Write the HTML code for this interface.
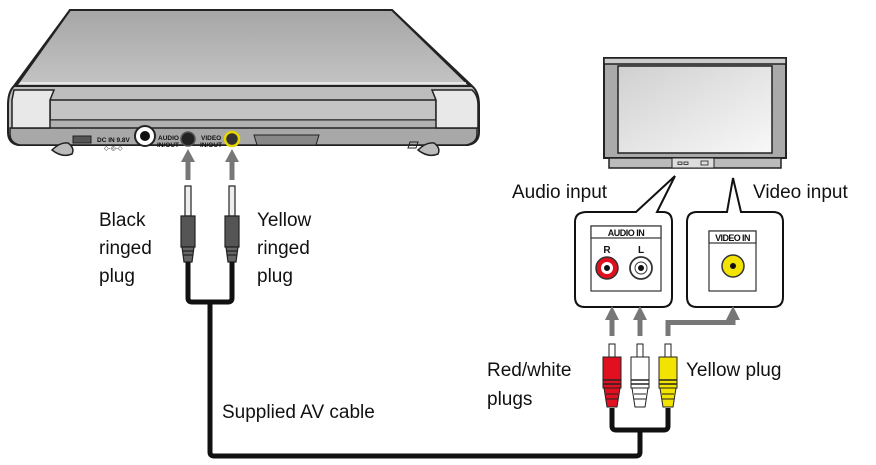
<!DOCTYPE html>
<html><head><meta charset="utf-8"><style>
html,body{margin:0;padding:0;background:#fff;width:876px;height:465px;overflow:hidden}
svg{display:block}
text{font-family:"Liberation Sans",sans-serif;fill:#111}
</style></head><body>
<svg width="876" height="465" viewBox="0 0 876 465" xmlns="http://www.w3.org/2000/svg">
<defs>
<linearGradient id="lid" x1="0" y1="0" x2="0" y2="1"><stop offset="0" stop-color="#a6a6a6"/><stop offset="1" stop-color="#c4c4c4"/></linearGradient>
<linearGradient id="scr" x1="0" y1="0" x2="1" y2="1"><stop offset="0" stop-color="#d0d0d0"/><stop offset="1" stop-color="#f8f8f8"/></linearGradient>
</defs>
<!-- DVD player -->
<path d="M70,10 L392,10 L472,86 Q479,92 479,105 L479,132 Q479,143 468,145 L18,145 Q8,143 8,132 L8,105 Q8,92 14,86 Z" fill="#bdbdbd" stroke="#222" stroke-width="2"/>
<path d="M70,10 L392,10 L470,86 L16,86 Z" fill="url(#lid)" stroke="#222" stroke-width="2"/>
<line x1="20" y1="83" x2="466" y2="83" fill="none" stroke="#f2f2f2" stroke-width="1.5"/>
<rect x="50" y="100" width="386" height="20" fill="#c4c4c4" stroke="#222" stroke-width="1.5"/>
<rect x="50" y="120" width="386" height="9" fill="#b0b0b0" stroke="#222" stroke-width="1"/>
<path d="M10,128 L477,128 L477,134 Q477,143 466,145 L20,145 Q10,143 10,134 Z" fill="#a8a8a8" stroke="#222" stroke-width="1.5"/>
<path d="M14,90 L54,90 L50,100 L50,128 L12,128 L12,100 Z" fill="#e8e8e8" stroke="#222" stroke-width="1.5"/>
<path d="M432,90 L472,90 Q478,95 478,105 L478,128 L436,128 L436,100 Z" fill="#e8e8e8" stroke="#222" stroke-width="1.5"/>
<path d="M52,150 Q60,142 68,143 Q75,148 72,154 Q62,158 52,150 Z" fill="#bbb" stroke="#222" stroke-width="1.5"/>
<path d="M418,150 Q426,142 434,143 Q441,148 438,154 Q428,158 418,150 Z" fill="#bbb" stroke="#222" stroke-width="1.5"/>
<rect x="73" y="136" width="18" height="7" fill="#555" stroke="#222"/>
<text x="97" y="142" font-size="6.5" font-weight="bold" fill="#222">DC IN 9.8V</text>
<text x="104" y="150" font-size="6" fill="#222">◇-◎-◇</text>
<circle cx="145" cy="136" r="10" fill="#fff" stroke="#222" stroke-width="2"/><circle cx="145" cy="136" r="5" fill="#111"/>
<text x="158" y="140" font-size="6.5" font-weight="bold" fill="#333">AUDIO</text>
<text x="157" y="147" font-size="6.5" font-weight="bold" fill="#333">IN/OUT</text>
<circle cx="188" cy="139" r="7" fill="#222" stroke="#555" stroke-width="1.5"/>
<text x="201" y="140" font-size="6.5" font-weight="bold" fill="#333">VIDEO</text>
<text x="200" y="147" font-size="6.5" font-weight="bold" fill="#333">IN/OUT</text>
<circle cx="232" cy="139" r="7" fill="#333" stroke="#e8d800" stroke-width="2.5"/>
<path d="M254,135 L319,135 L316,145 L257,145 Z" fill="#888" stroke="#222"/>
<path d="M410,142 L418,142 L416,148 L408,148 Z" fill="none" stroke="#222"/>
<!-- arrows up to jacks -->
<g fill="#777"><rect x="185.5" y="160" width="5" height="20"/><path d="M181,162 L188,149 L195,162 Z"/>
<rect x="229.5" y="160" width="5" height="20"/><path d="M225,162 L232,149 L239,162 Z"/></g>
<!-- mini plugs -->
<g stroke="#222" stroke-width="1.2">
<g id="mp"><rect x="185" y="186" width="6" height="30" fill="#eee"/><path d="M181,216 L195,216 L195,247 L181,247 Z" fill="#555"/><path d="M182,247 L194,247 L192,262 L184,262 Z" fill="#666"/><line x1="182" y1="251" x2="194" y2="251"/><line x1="183" y1="255" x2="193" y2="255"/></g>
<use href="#mp" transform="translate(44,0)"/>
</g>
<path d="M188,262 L188,298 Q188,302 192,302 L228,302 Q232,302 232,298 L232,262 M210,302 L210,452 Q210,456 214,456 L636,456 Q640,456 640,452 L640,430 M612,408 L612,426 Q612,430 616,430 L664,430 Q668,430 668,426 L668,408" fill="none" stroke="#111" stroke-width="5"/>
<!-- TV -->
<rect x="604" y="58" width="182" height="100" fill="#aaa" stroke="#222" stroke-width="2"/>
<rect x="604" y="58" width="182" height="6" fill="#ccc" stroke="#222" stroke-width="1.5"/>
<rect x="618" y="66" width="154" height="87" fill="url(#scr)" stroke="#222" stroke-width="1.5"/>
<rect x="609" y="158" width="172" height="10" fill="#bbb" stroke="#222" stroke-width="1.5"/>
<rect x="672" y="158" width="42" height="10" fill="#ddd" stroke="#222"/>
<rect x="678" y="162" width="4" height="2.5" fill="none" stroke="#222" stroke-width="0.8"/><rect x="684" y="162" width="4" height="2.5" fill="none" stroke="#222" stroke-width="0.8"/><rect x="701" y="161" width="7" height="4" fill="none" stroke="#222" stroke-width="0.8"/>
<!-- callout boxes -->
<path d="M587,212 L636,212 L675,176 L657,212 L663,212 Q672,212 672,222 L672,297 Q672,307 662,307 L585,307 Q575,307 575,297 L575,222 Q575,212 587,212 Z" fill="#fff" stroke="#111" stroke-width="2"/>
<path d="M697,212 L727,212 L733,178 L741,212 L773,212 Q783,212 783,222 L783,297 Q783,307 773,307 L697,307 Q687,307 687,297 L687,222 Q687,212 697,212 Z" fill="#fff" stroke="#111" stroke-width="2"/>
<rect x="591" y="226" width="70" height="65" fill="#fff" stroke="#333" stroke-width="1.2"/>
<rect x="591" y="226" width="70" height="12" fill="#fff" stroke="#333" stroke-width="1.2"/>
<text x="626" y="236" font-size="9" font-weight="bold" text-anchor="middle" letter-spacing="-0.5">AUDIO IN</text>
<text x="607" y="253" font-size="10" font-weight="bold" text-anchor="middle">R</text>
<text x="641" y="253" font-size="10" font-weight="bold" text-anchor="middle">L</text>
<circle cx="607" cy="268" r="11" fill="#e01020" stroke="#333" stroke-width="1.5"/><circle cx="607" cy="268" r="6" fill="#fff"/><circle cx="607" cy="268" r="3" fill="#111"/>
<circle cx="641" cy="268" r="11" fill="#fff" stroke="#333" stroke-width="1.8"/><circle cx="641" cy="268" r="6" fill="#fff" stroke="#333"/><circle cx="641" cy="268" r="3" fill="#111"/>
<rect x="709" y="231" width="47" height="60" fill="#fff" stroke="#333" stroke-width="1.2"/>
<rect x="709" y="231" width="47" height="12" fill="#fff" stroke="#333" stroke-width="1.2"/>
<text x="732.5" y="241" font-size="9" font-weight="bold" text-anchor="middle" letter-spacing="-0.6">VIDEO IN</text>
<circle cx="733" cy="266" r="11" fill="#f2e400" stroke="#333" stroke-width="1.5"/><circle cx="733" cy="266" r="3" fill="#111"/>
<!-- arrows to boxes -->
<g fill="#777"><rect x="609.5" y="318" width="5" height="18"/><path d="M605,320 L612,306 L619,320 Z"/>
<rect x="637.5" y="318" width="5" height="18"/><path d="M633,320 L640,306 L647,320 Z"/>
<path d="M665.5,336 L665.5,320 L730.5,320 L730.5,318 L735.5,318 L735.5,325 L670.5,325 L670.5,336 Z"/><path d="M726,320 L733,306 L740,320 Z"/></g>
<!-- RCA plugs -->
<g stroke="#222" stroke-width="1">
<rect x="609" y="344" width="6" height="13" fill="#fff"/><path d="M603,357 L621,357 L621,388 L603,388 Z" fill="#e01020"/><path d="M604,388 L620,388 L617,407 L607,407 Z" fill="#e01020"/><line x1="603" y1="380" x2="621" y2="380" stroke-width="1.5"/><line x1="603" y1="384" x2="621" y2="384" stroke-width="1.5"/><line x1="606" y1="394" x2="618" y2="394"/><line x1="606" y1="399" x2="618" y2="399"/>
<g transform="translate(28,0)"><rect x="609" y="344" width="6" height="13" fill="#fff"/><path d="M603,357 L621,357 L621,388 L603,388 Z" fill="#fff"/><path d="M604,388 L620,388 L617,407 L607,407 Z" fill="#fff"/><line x1="603" y1="380" x2="621" y2="380" stroke-width="1.5"/><line x1="603" y1="384" x2="621" y2="384" stroke-width="1.5"/><line x1="606" y1="394" x2="618" y2="394"/><line x1="606" y1="399" x2="618" y2="399"/></g>
<g transform="translate(56,0)"><rect x="609" y="344" width="6" height="13" fill="#fff"/><path d="M603,357 L621,357 L621,388 L603,388 Z" fill="#f2e400"/><path d="M604,388 L620,388 L617,407 L607,407 Z" fill="#f2e400"/><line x1="603" y1="380" x2="621" y2="380" stroke-width="1.5"/><line x1="603" y1="384" x2="621" y2="384" stroke-width="1.5"/><line x1="606" y1="394" x2="618" y2="394"/><line x1="606" y1="399" x2="618" y2="399"/></g>
</g>
<!-- labels -->
<g font-size="19">
<text x="99" y="226">Black</text><text x="99" y="254">ringed</text><text x="99" y="282">plug</text>
<text x="257" y="226">Yellow</text><text x="257" y="254">ringed</text><text x="257" y="282">plug</text>
<text x="512" y="198">Audio input</text>
<text x="753" y="198">Video input</text>
<text x="487" y="376">Red/white</text><text x="487" y="405">plugs</text>
<text x="686" y="376">Yellow plug</text>
<text x="222" y="418">Supplied AV cable</text>
</g>
</svg>
</body></html>
